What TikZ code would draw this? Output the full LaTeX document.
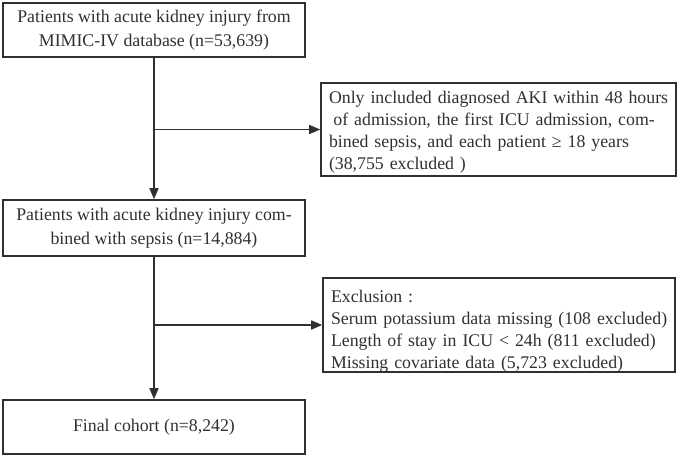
\documentclass[tikz,border=0pt]{standalone}
\usepackage{fontspec}
\setmainfont{Liberation Serif}
\usetikzlibrary{arrows.meta}
\definecolor{ink}{HTML}{303030}
\newcommand{\oneline}[1]{\mbox{#1}}
\begin{document}
\begin{tikzpicture}[x=1pt,y=-1pt,
  box/.style={draw=ink,line width=1.6pt,text=ink,inner sep=0pt,
    font=\fontsize{17.8}{22}\selectfont},
  cbox/.style={box,align=center,minimum width=302pt,font=\fontsize{17.8}{24}\selectfont},
  conn/.style={draw=ink,line width=1.6pt},
  arr/.style={conn,-{Triangle[length=11pt,width=9pt]}}]
\useasboundingbox (0,0) rectangle (679,456);
\node[cbox,minimum height=54pt] (b1) at (154,30)
  {Patients with acute kidney injury from\\MIMIC-IV database (n=53,639)};
\node[box,minimum width=355pt,minimum height=93pt,align=left,text width=339pt,inner xsep=8pt] (b2) at (498.5,129.5)
  {\oneline{\rule{0pt}{18pt}Only included diagnosed AKI within 48 hours}\\\oneline{\hspace*{0.25em}of admission, the first ICU admission, com-}\\\oneline{bined sepsis, and each patient ≥ 18 years}\\\oneline{(38,755 excluded )}};
\node[cbox,minimum height=56pt] (b3) at (154,228)
  {Patients with acute kidney injury com-\\bined with sepsis (n=14,884)};
\node[box,minimum width=352pt,minimum height=90pt,align=left,text width=336pt,inner xsep=8pt] (b4) at (499,325)
  {\oneline{\rule{0pt}{24pt}Exclusion :}\\\oneline{Serum potassium data missing (108 excluded)}\\\oneline{Length of stay in ICU < 24h (811 excluded)}\\\oneline{Missing covariate data (5,723 excluded)}};
\node[cbox,minimum height=54pt] (b5) at (154,427)
  {Final cohort (n=8,242)};
\coordinate (j1) at (b1.south |- b2.west);
\coordinate (j2) at (b3.south |- b4.west);
\draw[arr] (b1.south) -- (b3.north);
\draw[arr] (j1) -- (b2.west);
\draw[arr] (b3.south) -- (b5.north);
\draw[arr] (j2) -- (b4.west);
\end{tikzpicture}
\end{document}
